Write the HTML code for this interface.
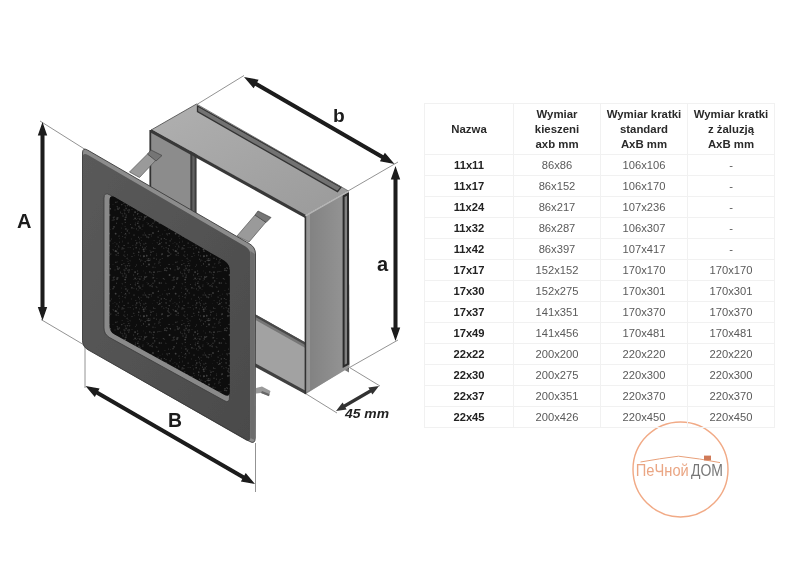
<!DOCTYPE html>
<html><head><meta charset="utf-8"><style>
html,body{margin:0;padding:0;background:#fff;}
body{width:800px;height:566px;position:relative;overflow:hidden;font-family:"Liberation Sans",sans-serif;}
table{position:absolute;left:424px;top:103px;width:350px;border-collapse:collapse;table-layout:fixed;font-size:11.2px;color:#5a5a5a;filter:blur(0.35px);}
td,th{border:1px solid #f1f1f1;text-align:center;padding:0;height:20px;line-height:20px;}
th{height:50px;line-height:15px;font-weight:bold;color:#2a2a2a;font-size:11.4px;}
td.n{font-weight:bold;color:#222;}
</style></head><body>

<svg width="800" height="566" viewBox="0 0 800 566" style="position:absolute;left:0;top:0">
<defs>
<pattern id="mesh" width="60" height="60" patternUnits="userSpaceOnUse"><rect width="60" height="60" fill="#0b0b0b"/><g filter="url(#soft2)"><circle cx="19.4" cy="9.1" r="0.83" fill="rgb(34,34,34)"/><circle cx="49.3" cy="5.6" r="0.80" fill="rgb(60,60,60)"/><circle cx="12.9" cy="5.2" r="0.75" fill="rgb(40,40,40)"/><circle cx="5.4" cy="25.5" r="0.89" fill="rgb(34,34,34)"/><circle cx="56.8" cy="37.8" r="0.80" fill="rgb(34,34,34)"/><circle cx="34.6" cy="23.8" r="0.94" fill="rgb(34,34,34)"/><circle cx="33.4" cy="8.0" r="0.75" fill="rgb(60,60,60)"/><circle cx="7.1" cy="18.5" r="0.89" fill="rgb(40,40,40)"/><circle cx="6.2" cy="34.3" r="0.67" fill="rgb(34,34,34)"/><circle cx="32.9" cy="3.8" r="0.62" fill="rgb(40,40,40)"/><circle cx="29.8" cy="31.9" r="0.87" fill="rgb(52,52,52)"/><circle cx="35.1" cy="27.2" r="0.70" fill="rgb(40,40,40)"/><circle cx="41.9" cy="14.6" r="0.80" fill="rgb(60,60,60)"/><circle cx="29.7" cy="20.6" r="0.76" fill="rgb(60,60,60)"/><circle cx="58.8" cy="7.1" r="0.75" fill="rgb(46,46,46)"/><circle cx="9.1" cy="29.3" r="0.61" fill="rgb(70,70,70)"/><circle cx="4.7" cy="33.5" r="0.88" fill="rgb(46,46,46)"/><circle cx="20.4" cy="21.0" r="0.77" fill="rgb(52,52,52)"/><circle cx="4.1" cy="5.6" r="0.69" fill="rgb(70,70,70)"/><circle cx="39.8" cy="3.6" r="0.85" fill="rgb(70,70,70)"/><circle cx="34.7" cy="40.9" r="0.76" fill="rgb(70,70,70)"/><circle cx="23.1" cy="40.1" r="0.61" fill="rgb(52,52,52)"/><circle cx="21.3" cy="36.7" r="0.77" fill="rgb(40,40,40)"/><circle cx="46.1" cy="7.8" r="0.69" fill="rgb(52,52,52)"/><circle cx="55.0" cy="29.8" r="0.66" fill="rgb(52,52,52)"/><circle cx="33.0" cy="53.0" r="0.89" fill="rgb(60,60,60)"/><circle cx="16.7" cy="24.9" r="0.73" fill="rgb(52,52,52)"/><circle cx="57.5" cy="9.1" r="0.66" fill="rgb(40,40,40)"/><circle cx="39.5" cy="0.7" r="0.89" fill="rgb(40,40,40)"/><circle cx="15.8" cy="0.2" r="0.75" fill="rgb(46,46,46)"/><circle cx="36.6" cy="19.1" r="0.64" fill="rgb(60,60,60)"/><circle cx="57.0" cy="39.3" r="0.86" fill="rgb(52,52,52)"/><circle cx="54.0" cy="46.8" r="0.91" fill="rgb(60,60,60)"/><circle cx="23.5" cy="23.9" r="0.64" fill="rgb(70,70,70)"/><circle cx="24.0" cy="11.4" r="0.94" fill="rgb(52,52,52)"/><circle cx="9.7" cy="20.4" r="0.62" fill="rgb(34,34,34)"/><circle cx="34.0" cy="32.2" r="0.93" fill="rgb(60,60,60)"/><circle cx="1.5" cy="52.5" r="0.81" fill="rgb(40,40,40)"/><circle cx="38.1" cy="57.3" r="0.81" fill="rgb(52,52,52)"/><circle cx="7.4" cy="50.9" r="0.95" fill="rgb(52,52,52)"/><circle cx="28.8" cy="18.7" r="0.65" fill="rgb(70,70,70)"/><circle cx="20.6" cy="15.9" r="0.89" fill="rgb(40,40,40)"/><circle cx="31.0" cy="12.3" r="0.93" fill="rgb(46,46,46)"/><circle cx="8.8" cy="32.6" r="0.61" fill="rgb(60,60,60)"/><circle cx="17.9" cy="38.6" r="0.63" fill="rgb(46,46,46)"/><circle cx="31.1" cy="54.5" r="0.72" fill="rgb(40,40,40)"/><circle cx="32.0" cy="46.7" r="0.72" fill="rgb(40,40,40)"/><circle cx="36.8" cy="47.3" r="0.87" fill="rgb(40,40,40)"/><circle cx="48.4" cy="49.1" r="0.86" fill="rgb(40,40,40)"/><circle cx="12.0" cy="29.6" r="0.86" fill="rgb(34,34,34)"/><circle cx="47.4" cy="28.3" r="0.67" fill="rgb(60,60,60)"/><circle cx="57.4" cy="26.8" r="0.93" fill="rgb(46,46,46)"/><circle cx="57.3" cy="21.9" r="0.68" fill="rgb(40,40,40)"/><circle cx="28.2" cy="20.3" r="0.77" fill="rgb(60,60,60)"/><circle cx="50.4" cy="28.8" r="0.83" fill="rgb(70,70,70)"/><circle cx="5.1" cy="39.6" r="0.92" fill="rgb(70,70,70)"/><circle cx="45.0" cy="28.7" r="0.66" fill="rgb(70,70,70)"/><circle cx="20.0" cy="48.0" r="0.94" fill="rgb(52,52,52)"/><circle cx="27.8" cy="44.6" r="0.63" fill="rgb(40,40,40)"/><circle cx="10.2" cy="7.6" r="0.65" fill="rgb(52,52,52)"/><circle cx="48.4" cy="8.8" r="0.89" fill="rgb(52,52,52)"/><circle cx="39.4" cy="21.0" r="0.79" fill="rgb(40,40,40)"/><circle cx="1.3" cy="48.0" r="0.85" fill="rgb(34,34,34)"/><circle cx="31.6" cy="56.0" r="0.75" fill="rgb(40,40,40)"/><circle cx="49.6" cy="12.7" r="0.69" fill="rgb(46,46,46)"/><circle cx="30.1" cy="45.8" r="0.71" fill="rgb(60,60,60)"/><circle cx="25.1" cy="7.9" r="0.92" fill="rgb(46,46,46)"/><circle cx="53.9" cy="39.7" r="0.89" fill="rgb(60,60,60)"/><circle cx="25.2" cy="55.1" r="0.78" fill="rgb(60,60,60)"/><circle cx="9.1" cy="30.6" r="0.91" fill="rgb(40,40,40)"/><circle cx="36.5" cy="46.6" r="0.65" fill="rgb(40,40,40)"/><circle cx="28.4" cy="43.5" r="0.79" fill="rgb(46,46,46)"/><circle cx="40.9" cy="31.8" r="0.77" fill="rgb(34,34,34)"/><circle cx="53.0" cy="3.4" r="0.67" fill="rgb(34,34,34)"/><circle cx="46.3" cy="30.5" r="0.80" fill="rgb(34,34,34)"/><circle cx="26.6" cy="36.8" r="0.78" fill="rgb(60,60,60)"/><circle cx="12.0" cy="16.6" r="0.78" fill="rgb(52,52,52)"/><circle cx="30.5" cy="14.9" r="0.78" fill="rgb(46,46,46)"/><circle cx="55.4" cy="53.6" r="0.67" fill="rgb(52,52,52)"/><circle cx="8.2" cy="7.3" r="0.75" fill="rgb(34,34,34)"/><circle cx="40.3" cy="25.7" r="0.67" fill="rgb(46,46,46)"/><circle cx="47.0" cy="53.8" r="0.65" fill="rgb(70,70,70)"/><circle cx="38.6" cy="22.0" r="0.69" fill="rgb(40,40,40)"/><circle cx="58.1" cy="13.2" r="0.93" fill="rgb(52,52,52)"/><circle cx="53.1" cy="9.8" r="0.83" fill="rgb(40,40,40)"/><circle cx="9.7" cy="25.9" r="0.78" fill="rgb(46,46,46)"/><circle cx="25.3" cy="21.4" r="0.63" fill="rgb(46,46,46)"/><circle cx="1.2" cy="33.2" r="0.75" fill="rgb(34,34,34)"/><circle cx="23.1" cy="31.0" r="0.70" fill="rgb(34,34,34)"/><circle cx="6.8" cy="55.1" r="0.68" fill="rgb(34,34,34)"/><circle cx="5.0" cy="16.3" r="0.92" fill="rgb(40,40,40)"/><circle cx="16.2" cy="7.8" r="0.75" fill="rgb(70,70,70)"/><circle cx="49.1" cy="15.5" r="0.65" fill="rgb(60,60,60)"/><circle cx="34.2" cy="42.0" r="0.63" fill="rgb(34,34,34)"/><circle cx="48.0" cy="11.0" r="0.91" fill="rgb(46,46,46)"/><circle cx="56.3" cy="38.1" r="0.88" fill="rgb(34,34,34)"/><circle cx="36.5" cy="13.3" r="0.69" fill="rgb(34,34,34)"/><circle cx="27.2" cy="20.3" r="0.79" fill="rgb(46,46,46)"/><circle cx="37.3" cy="2.6" r="0.85" fill="rgb(34,34,34)"/><circle cx="58.2" cy="15.7" r="0.66" fill="rgb(46,46,46)"/><circle cx="37.7" cy="31.9" r="0.67" fill="rgb(52,52,52)"/><circle cx="30.0" cy="10.7" r="0.72" fill="rgb(34,34,34)"/><circle cx="59.7" cy="2.2" r="0.61" fill="rgb(60,60,60)"/><circle cx="33.1" cy="11.4" r="0.77" fill="rgb(52,52,52)"/><circle cx="6.4" cy="49.1" r="0.75" fill="rgb(52,52,52)"/><circle cx="32.8" cy="53.3" r="0.94" fill="rgb(46,46,46)"/><circle cx="41.3" cy="58.9" r="0.72" fill="rgb(70,70,70)"/><circle cx="43.7" cy="8.4" r="0.95" fill="rgb(34,34,34)"/><circle cx="50.2" cy="0.9" r="0.82" fill="rgb(46,46,46)"/><circle cx="25.8" cy="3.3" r="0.83" fill="rgb(52,52,52)"/><circle cx="52.2" cy="40.2" r="0.70" fill="rgb(40,40,40)"/><circle cx="41.6" cy="2.7" r="0.66" fill="rgb(46,46,46)"/><circle cx="26.7" cy="15.8" r="0.94" fill="rgb(60,60,60)"/><circle cx="19.4" cy="2.1" r="0.91" fill="rgb(40,40,40)"/><circle cx="21.4" cy="0.1" r="0.73" fill="rgb(52,52,52)"/><circle cx="16.7" cy="39.4" r="0.69" fill="rgb(34,34,34)"/><circle cx="5.5" cy="49.0" r="0.65" fill="rgb(60,60,60)"/><circle cx="2.5" cy="1.3" r="0.71" fill="rgb(40,40,40)"/><circle cx="5.1" cy="57.5" r="0.90" fill="rgb(40,40,40)"/><circle cx="39.5" cy="43.0" r="0.91" fill="rgb(52,52,52)"/><circle cx="45.9" cy="43.2" r="0.77" fill="rgb(46,46,46)"/><circle cx="43.4" cy="38.6" r="0.62" fill="rgb(70,70,70)"/><circle cx="53.5" cy="37.6" r="0.86" fill="rgb(60,60,60)"/><circle cx="8.4" cy="31.4" r="0.78" fill="rgb(34,34,34)"/><circle cx="49.6" cy="35.0" r="0.91" fill="rgb(70,70,70)"/><circle cx="57.4" cy="38.6" r="0.63" fill="rgb(34,34,34)"/><circle cx="8.0" cy="21.6" r="0.64" fill="rgb(52,52,52)"/><circle cx="33.5" cy="37.7" r="0.82" fill="rgb(70,70,70)"/><circle cx="14.7" cy="15.8" r="0.76" fill="rgb(34,34,34)"/><circle cx="44.9" cy="30.2" r="0.79" fill="rgb(70,70,70)"/><circle cx="31.6" cy="44.7" r="0.77" fill="rgb(34,34,34)"/><circle cx="50.8" cy="14.1" r="0.86" fill="rgb(40,40,40)"/><circle cx="44.4" cy="58.5" r="0.77" fill="rgb(52,52,52)"/><circle cx="4.6" cy="54.6" r="0.70" fill="rgb(34,34,34)"/><circle cx="37.0" cy="38.6" r="0.63" fill="rgb(40,40,40)"/><circle cx="19.9" cy="39.1" r="0.84" fill="rgb(60,60,60)"/><circle cx="34.1" cy="0.7" r="0.62" fill="rgb(46,46,46)"/><circle cx="58.4" cy="6.0" r="0.68" fill="rgb(52,52,52)"/><circle cx="17.5" cy="31.0" r="0.76" fill="rgb(52,52,52)"/><circle cx="46.0" cy="59.6" r="0.79" fill="rgb(46,46,46)"/><circle cx="58.7" cy="56.2" r="0.61" fill="rgb(52,52,52)"/><circle cx="4.6" cy="30.4" r="0.95" fill="rgb(46,46,46)"/><circle cx="23.2" cy="55.0" r="0.93" fill="rgb(34,34,34)"/><circle cx="34.9" cy="8.5" r="0.78" fill="rgb(46,46,46)"/><circle cx="8.0" cy="49.2" r="0.78" fill="rgb(34,34,34)"/><circle cx="42.2" cy="13.9" r="0.91" fill="rgb(52,52,52)"/><circle cx="23.6" cy="9.5" r="0.93" fill="rgb(70,70,70)"/><circle cx="27.0" cy="18.1" r="0.65" fill="rgb(46,46,46)"/><circle cx="22.6" cy="7.3" r="0.72" fill="rgb(46,46,46)"/><circle cx="45.0" cy="50.3" r="0.64" fill="rgb(40,40,40)"/><circle cx="42.8" cy="54.1" r="0.70" fill="rgb(46,46,46)"/><circle cx="3.9" cy="23.4" r="0.90" fill="rgb(34,34,34)"/><circle cx="21.6" cy="25.7" r="0.70" fill="rgb(34,34,34)"/><circle cx="16.8" cy="3.1" r="0.83" fill="rgb(70,70,70)"/><circle cx="56.1" cy="15.0" r="0.69" fill="rgb(60,60,60)"/><circle cx="18.9" cy="46.4" r="0.87" fill="rgb(52,52,52)"/><circle cx="53.1" cy="48.7" r="0.82" fill="rgb(60,60,60)"/><circle cx="33.0" cy="43.2" r="0.62" fill="rgb(70,70,70)"/><circle cx="24.7" cy="36.9" r="0.65" fill="rgb(46,46,46)"/><circle cx="29.1" cy="54.7" r="0.79" fill="rgb(40,40,40)"/><circle cx="28.3" cy="20.6" r="0.70" fill="rgb(70,70,70)"/><circle cx="44.3" cy="39.2" r="0.74" fill="rgb(40,40,40)"/><circle cx="18.1" cy="33.4" r="0.74" fill="rgb(40,40,40)"/><circle cx="38.6" cy="4.5" r="0.78" fill="rgb(52,52,52)"/><circle cx="33.0" cy="27.2" r="0.72" fill="rgb(52,52,52)"/><circle cx="25.6" cy="32.9" r="0.69" fill="rgb(40,40,40)"/><circle cx="20.5" cy="5.5" r="0.68" fill="rgb(46,46,46)"/><circle cx="48.6" cy="12.1" r="0.61" fill="rgb(52,52,52)"/><circle cx="23.0" cy="44.8" r="0.67" fill="rgb(46,46,46)"/><circle cx="20.3" cy="3.7" r="0.70" fill="rgb(46,46,46)"/><circle cx="7.6" cy="30.2" r="0.82" fill="rgb(40,40,40)"/><circle cx="5.6" cy="53.8" r="0.73" fill="rgb(70,70,70)"/><circle cx="26.8" cy="57.2" r="0.90" fill="rgb(34,34,34)"/><circle cx="7.6" cy="25.5" r="0.87" fill="rgb(52,52,52)"/><circle cx="58.1" cy="29.4" r="0.63" fill="rgb(60,60,60)"/><circle cx="51.3" cy="58.3" r="0.69" fill="rgb(34,34,34)"/><circle cx="13.4" cy="9.1" r="0.94" fill="rgb(34,34,34)"/><circle cx="56.5" cy="43.3" r="0.83" fill="rgb(52,52,52)"/><circle cx="5.1" cy="46.6" r="0.60" fill="rgb(40,40,40)"/><circle cx="14.0" cy="55.2" r="0.83" fill="rgb(46,46,46)"/><circle cx="57.7" cy="37.6" r="0.78" fill="rgb(52,52,52)"/><circle cx="41.9" cy="6.7" r="0.62" fill="rgb(60,60,60)"/><circle cx="56.6" cy="11.5" r="0.69" fill="rgb(60,60,60)"/><circle cx="0.1" cy="32.2" r="0.95" fill="rgb(46,46,46)"/><circle cx="57.5" cy="38.7" r="0.91" fill="rgb(52,52,52)"/><circle cx="31.6" cy="32.8" r="0.61" fill="rgb(52,52,52)"/><circle cx="42.3" cy="18.4" r="0.61" fill="rgb(52,52,52)"/><circle cx="53.1" cy="38.8" r="0.63" fill="rgb(40,40,40)"/><circle cx="40.0" cy="55.5" r="0.68" fill="rgb(34,34,34)"/><circle cx="41.7" cy="43.1" r="0.73" fill="rgb(52,52,52)"/><circle cx="11.9" cy="47.8" r="0.86" fill="rgb(60,60,60)"/><circle cx="4.0" cy="29.7" r="0.67" fill="rgb(40,40,40)"/><circle cx="13.8" cy="13.3" r="0.87" fill="rgb(46,46,46)"/><circle cx="6.5" cy="37.4" r="0.81" fill="rgb(40,40,40)"/><circle cx="29.1" cy="54.6" r="0.62" fill="rgb(60,60,60)"/><circle cx="8.8" cy="23.6" r="0.67" fill="rgb(60,60,60)"/><circle cx="8.5" cy="3.1" r="0.62" fill="rgb(52,52,52)"/><circle cx="27.0" cy="42.7" r="0.71" fill="rgb(34,34,34)"/><circle cx="59.9" cy="55.9" r="0.72" fill="rgb(40,40,40)"/><circle cx="39.1" cy="31.5" r="0.76" fill="rgb(46,46,46)"/><circle cx="39.9" cy="22.7" r="0.73" fill="rgb(46,46,46)"/><circle cx="26.5" cy="6.5" r="0.63" fill="rgb(34,34,34)"/><circle cx="21.1" cy="57.3" r="0.64" fill="rgb(40,40,40)"/><circle cx="22.8" cy="46.1" r="0.71" fill="rgb(52,52,52)"/><circle cx="5.3" cy="42.3" r="0.67" fill="rgb(60,60,60)"/><circle cx="55.2" cy="11.6" r="0.73" fill="rgb(52,52,52)"/><circle cx="1.8" cy="24.6" r="0.88" fill="rgb(52,52,52)"/><circle cx="2.4" cy="2.1" r="0.62" fill="rgb(34,34,34)"/><circle cx="15.4" cy="44.8" r="0.91" fill="rgb(46,46,46)"/><circle cx="21.8" cy="20.1" r="0.93" fill="rgb(34,34,34)"/><circle cx="15.7" cy="43.0" r="0.71" fill="rgb(46,46,46)"/><circle cx="17.8" cy="43.3" r="0.81" fill="rgb(70,70,70)"/><circle cx="56.8" cy="3.9" r="0.89" fill="rgb(34,34,34)"/><circle cx="28.5" cy="57.4" r="0.93" fill="rgb(52,52,52)"/><circle cx="47.4" cy="54.8" r="0.89" fill="rgb(40,40,40)"/><circle cx="55.7" cy="11.0" r="0.88" fill="rgb(70,70,70)"/><circle cx="18.2" cy="41.5" r="0.65" fill="rgb(40,40,40)"/><circle cx="19.7" cy="19.2" r="0.73" fill="rgb(60,60,60)"/><circle cx="4.7" cy="11.8" r="0.86" fill="rgb(40,40,40)"/><circle cx="24.5" cy="39.0" r="0.77" fill="rgb(60,60,60)"/><circle cx="19.5" cy="58.8" r="0.91" fill="rgb(34,34,34)"/><circle cx="15.9" cy="5.0" r="0.63" fill="rgb(52,52,52)"/><circle cx="59.3" cy="58.3" r="0.66" fill="rgb(40,40,40)"/><circle cx="25.0" cy="37.2" r="0.84" fill="rgb(70,70,70)"/><circle cx="32.3" cy="46.4" r="0.87" fill="rgb(46,46,46)"/><circle cx="17.6" cy="34.0" r="0.73" fill="rgb(70,70,70)"/><circle cx="15.6" cy="26.4" r="0.67" fill="rgb(40,40,40)"/><circle cx="9.2" cy="53.1" r="0.80" fill="rgb(46,46,46)"/><circle cx="3.9" cy="15.1" r="0.69" fill="rgb(60,60,60)"/><circle cx="13.9" cy="48.5" r="0.83" fill="rgb(34,34,34)"/><circle cx="6.1" cy="28.5" r="0.89" fill="rgb(52,52,52)"/><circle cx="54.9" cy="2.4" r="0.70" fill="rgb(34,34,34)"/><circle cx="3.0" cy="36.0" r="0.89" fill="rgb(40,40,40)"/><circle cx="55.8" cy="22.3" r="0.90" fill="rgb(52,52,52)"/><circle cx="36.2" cy="46.5" r="0.83" fill="rgb(34,34,34)"/><circle cx="6.3" cy="35.8" r="0.82" fill="rgb(40,40,40)"/><circle cx="2.2" cy="20.4" r="0.62" fill="rgb(46,46,46)"/><circle cx="2.3" cy="43.9" r="0.92" fill="rgb(34,34,34)"/><circle cx="49.1" cy="24.5" r="0.73" fill="rgb(60,60,60)"/><circle cx="18.7" cy="12.2" r="0.88" fill="rgb(60,60,60)"/><circle cx="29.0" cy="24.5" r="0.88" fill="rgb(70,70,70)"/><circle cx="33.0" cy="38.4" r="0.63" fill="rgb(40,40,40)"/><circle cx="23.9" cy="16.3" r="0.95" fill="rgb(70,70,70)"/><circle cx="18.5" cy="57.2" r="0.71" fill="rgb(60,60,60)"/><circle cx="53.0" cy="24.8" r="0.61" fill="rgb(46,46,46)"/><circle cx="38.7" cy="23.4" r="0.74" fill="rgb(34,34,34)"/><circle cx="26.0" cy="9.4" r="0.64" fill="rgb(34,34,34)"/><circle cx="24.4" cy="53.0" r="0.76" fill="rgb(40,40,40)"/><circle cx="7.8" cy="3.1" r="0.65" fill="rgb(52,52,52)"/><circle cx="5.3" cy="37.3" r="0.73" fill="rgb(60,60,60)"/><circle cx="10.3" cy="20.9" r="0.66" fill="rgb(40,40,40)"/><circle cx="55.5" cy="6.5" r="0.77" fill="rgb(40,40,40)"/><circle cx="18.1" cy="50.2" r="0.62" fill="rgb(52,52,52)"/><circle cx="18.9" cy="36.5" r="0.82" fill="rgb(34,34,34)"/><circle cx="54.3" cy="37.2" r="0.89" fill="rgb(40,40,40)"/><circle cx="38.4" cy="51.4" r="0.82" fill="rgb(60,60,60)"/><circle cx="50.8" cy="49.8" r="0.66" fill="rgb(40,40,40)"/><circle cx="2.5" cy="56.3" r="0.65" fill="rgb(46,46,46)"/><circle cx="7.4" cy="14.8" r="0.85" fill="rgb(40,40,40)"/><circle cx="2.5" cy="33.7" r="0.87" fill="rgb(34,34,34)"/><circle cx="40.1" cy="19.5" r="0.74" fill="rgb(52,52,52)"/><circle cx="33.0" cy="37.6" r="0.71" fill="rgb(52,52,52)"/><circle cx="18.5" cy="15.0" r="0.74" fill="rgb(46,46,46)"/><circle cx="26.8" cy="26.3" r="0.61" fill="rgb(60,60,60)"/><circle cx="59.2" cy="27.9" r="0.76" fill="rgb(60,60,60)"/><circle cx="46.8" cy="27.5" r="0.66" fill="rgb(52,52,52)"/><circle cx="24.0" cy="4.0" r="0.73" fill="rgb(46,46,46)"/><circle cx="5.5" cy="26.5" r="0.78" fill="rgb(34,34,34)"/><circle cx="2.4" cy="7.8" r="0.92" fill="rgb(46,46,46)"/><circle cx="46.7" cy="30.7" r="0.62" fill="rgb(60,60,60)"/><circle cx="53.7" cy="39.2" r="0.87" fill="rgb(34,34,34)"/><circle cx="51.4" cy="59.8" r="0.86" fill="rgb(34,34,34)"/><circle cx="11.6" cy="58.9" r="0.77" fill="rgb(40,40,40)"/><circle cx="41.2" cy="43.3" r="0.68" fill="rgb(46,46,46)"/><circle cx="36.6" cy="15.1" r="0.71" fill="rgb(60,60,60)"/><circle cx="16.5" cy="48.9" r="0.65" fill="rgb(60,60,60)"/><circle cx="57.9" cy="28.8" r="0.81" fill="rgb(60,60,60)"/><circle cx="30.4" cy="19.1" r="0.61" fill="rgb(40,40,40)"/><circle cx="24.2" cy="38.2" r="0.70" fill="rgb(46,46,46)"/><circle cx="53.7" cy="10.1" r="0.87" fill="rgb(34,34,34)"/><circle cx="46.1" cy="2.9" r="0.90" fill="rgb(52,52,52)"/><circle cx="33.3" cy="34.8" r="0.91" fill="rgb(34,34,34)"/><circle cx="15.1" cy="32.1" r="0.90" fill="rgb(70,70,70)"/><circle cx="47.9" cy="15.9" r="0.95" fill="rgb(60,60,60)"/><circle cx="8.8" cy="19.8" r="0.63" fill="rgb(40,40,40)"/><circle cx="10.6" cy="44.6" r="0.62" fill="rgb(60,60,60)"/><circle cx="15.2" cy="38.4" r="0.94" fill="rgb(60,60,60)"/><circle cx="55.7" cy="53.7" r="0.86" fill="rgb(70,70,70)"/><circle cx="2.0" cy="9.0" r="0.82" fill="rgb(52,52,52)"/><circle cx="25.1" cy="21.8" r="0.62" fill="rgb(52,52,52)"/><circle cx="13.6" cy="39.2" r="0.61" fill="rgb(34,34,34)"/><circle cx="34.0" cy="18.2" r="0.78" fill="rgb(60,60,60)"/><circle cx="13.5" cy="35.0" r="0.81" fill="rgb(40,40,40)"/><circle cx="22.0" cy="49.7" r="0.66" fill="rgb(34,34,34)"/><circle cx="56.2" cy="14.6" r="0.65" fill="rgb(34,34,34)"/><circle cx="3.8" cy="8.7" r="0.83" fill="rgb(46,46,46)"/><circle cx="24.1" cy="15.9" r="0.60" fill="rgb(70,70,70)"/><circle cx="49.3" cy="53.6" r="0.81" fill="rgb(60,60,60)"/><circle cx="26.6" cy="56.2" r="0.86" fill="rgb(40,40,40)"/><circle cx="9.9" cy="0.0" r="0.62" fill="rgb(34,34,34)"/></g></pattern>
<linearGradient id="gtop" x1="0" y1="0" x2="1" y2="1"><stop offset="0" stop-color="#b0b0b0"/><stop offset="1" stop-color="#9a9a9a"/></linearGradient>
<linearGradient id="gright" x1="0" y1="0" x2="1" y2="0"><stop offset="0" stop-color="#808080"/><stop offset="1" stop-color="#969696"/></linearGradient>
<linearGradient id="gplate" x1="0" y1="0" x2="1" y2="1"><stop offset="0" stop-color="#5a5a5a"/><stop offset="1" stop-color="#4a4a4a"/></linearGradient>
<filter id="soft2"><feGaussianBlur stdDeviation="0.55"/></filter><filter id="soft"><feGaussianBlur stdDeviation="0.45"/></filter>
</defs>
<g filter="url(#soft)">
<!-- extension lines -->
<g stroke="#777" stroke-width="0.8" fill="none">
<line x1="40" y1="121" x2="86" y2="150"/>
<line x1="41" y1="319.5" x2="85" y2="345.5"/>
<line x1="85" y1="346" x2="85" y2="388"/>
<line x1="255.5" y1="443" x2="255.5" y2="492"/>
<line x1="196" y1="105" x2="244" y2="75.5"/>
<line x1="348" y1="191" x2="398" y2="162"/>
<line x1="349.5" y1="367.5" x2="398" y2="340"/>
<line x1="349.5" y1="367.5" x2="380" y2="386"/>
<line x1="305.5" y1="393.5" x2="337" y2="413"/>
</g>

<!-- box: bottom inner surface -->
<polygon points="196,281 349,367 306,394 151,309" fill="#a2a2a2"/>
<polygon points="196,281 349,367 349,372.5 196,286.5" fill="#767676"/><polygon points="196,281 349,367 349,369.6 196,283.6" fill="#484848"/>
<polygon points="151,306.3 306,391 306,394.6 151,310" fill="#404040"/>
<!-- left inner wall -->
<polygon points="150,130 196,155 196,283 150,310" fill="#8c8c8c"/>
<polygon points="190.3,150 196.6,153.5 196.6,283 190.3,286" fill="#3c3c3c"/>
<polygon points="192.3,152 194.6,153.3 194.6,283 192.3,284.2" fill="#636363"/>
<line x1="150.3" y1="130" x2="150.3" y2="310" stroke="#333" stroke-width="1.8"/>
<!-- right end face -->
<polygon points="305,215.5 348.5,191 349.5,367.5 305.5,393.8" fill="url(#gright)"/>
<polygon points="306,215.5 310,213.2 310,390 306,392.2" fill="#a0a0a0" opacity="0.7"/>
<polygon points="342.6,195.5 349,192 349.3,364.5 342.6,368" fill="#2a2a2a"/>
<polygon points="344.6,197 347,195.8 347,363.5 344.6,364.8" fill="#808080"/>
<line x1="305.4" y1="216" x2="305.4" y2="394" stroke="#333" stroke-width="1.6"/>
<!-- top face -->
<polygon points="152,129.5 196.5,104 348.5,191 305,215.5" fill="url(#gtop)"/>
<polygon points="197.5,106 341,187.2 337.5,191.6 197.5,111.6" fill="#727272" stroke="#333" stroke-width="1.3"/>
<polygon points="151,129 305.5,214.8 305.5,218.2 151,132.8" fill="#383838"/>
<line x1="305.5" y1="216" x2="348.5" y2="191.5" stroke="#b8b8b8" stroke-width="1.2"/>
<line x1="152" y1="129.5" x2="196.5" y2="104" stroke="#555" stroke-width="0.9"/>
<line x1="196.5" y1="104" x2="348.5" y2="191" stroke="#666" stroke-width="0.8"/>

<!-- clips -->
<polygon points="129.5,172 139.5,177.5 156,160 147.5,154" fill="#9a9a9a" stroke="#555" stroke-width="0.7"/>
<polygon points="147.5,154 151,150 162,155.5 156,161" fill="#747474" stroke="#444" stroke-width="0.7"/>
<polygon points="237,236 249,242 266,222 255,215" fill="#9a9a9a" stroke="#555" stroke-width="0.7"/>
<polygon points="255,215 258,211 271,217.5 266,222.5" fill="#747474" stroke="#444" stroke-width="0.7"/>
<polygon points="256,388 262,386.5 270.5,391 269,396 261,393 256,393.5" fill="#9a9a9a"/><polygon points="262,391 269.5,394 269,396.3 261,393" fill="#666"/>

<!-- plate -->
<path d="M82.5,153 Q82.5,147 88,150.3 L249,243.5 Q255.5,247 255.5,254 L255.2,438 Q255.2,444.6 249.5,441.4 L88,349.8 Q82.5,346.6 82.5,340.5 Z" fill="#8c8c8c"/>
<path d="M82.5,158 Q82.5,152 88,155 L245.5,246.4 Q250.5,249.4 250.5,255 L250.3,437 Q250.3,442.8 245.5,439.9 L88,349.8 Q82.5,346.6 82.5,340.5 Z" fill="url(#gplate)"/>
<path d="M82.5,153 Q82.5,147 88,150.3 L249,243.5 Q255.5,247 255.5,254 L255.2,438 Q255.2,444.6 249.5,441.4 L88,349.8 Q82.5,346.6 82.5,340.5 Z" fill="none" stroke="#3a3a3a" stroke-width="0.9"/>
<polygon points="250.3,251 254.8,254 254.8,440 250.3,438" fill="#6c6c6c"/>
<!-- opening bevel -->
<path d="M104,198 Q104,191.5 110,195 L224,261 Q229.5,264.5 229.5,271 L229.5,397 Q229.5,404 224,400.5 L109.5,337.5 Q104,334.2 104,328 Z" fill="#8a8a8a" stroke="#3a3a3a" stroke-width="0.8"/>
<path d="M109.5,200.5 Q109.5,194 115,197.3 L224,260.6 Q229.8,264.2 229.8,270.5 L229.8,391.5 Q229.8,398 224,394.7 L114.5,334.5 Q109.5,331.7 109.5,326 Z" fill="url(#mesh)"/>
</g>

<!-- arrows -->
<g filter="url(#soft)">
<polygon fill="#1a1a1a" points="42.5,122.0 37.8,135.5 40.5,135.5 40.5,307.0 37.8,307.0 42.5,320.5 47.2,307.0 44.5,307.0 44.5,135.5 47.2,135.5"/>
<polygon fill="#1a1a1a" points="244.0,77.0 253.6,88.3 255.1,85.8 381.3,158.8 379.9,161.3 394.5,164.0 384.9,152.7 383.4,155.2 257.2,82.2 258.6,79.7"/>
<polygon fill="#1a1a1a" points="395.5,166.0 390.8,179.5 393.5,179.5 393.5,327.5 390.8,327.5 395.5,341.0 400.2,327.5 397.5,327.5 397.5,179.5 400.2,179.5"/>
<polygon fill="#1a1a1a" points="85.5,386.0 94.8,396.9 96.2,394.5 242.3,479.0 240.9,481.4 255.0,484.0 245.7,473.1 244.3,475.5 98.2,391.0 99.6,388.6"/>
<polygon fill="#333" points="336.0,411.0 346.7,409.4 345.4,407.4 371.2,392.4 372.4,394.5 379.0,386.0 368.3,387.6 369.6,389.6 343.8,404.6 342.6,402.5"/>
<g font-family="Liberation Sans, sans-serif" font-weight="bold" fill="#1a1a1a">
<text x="17" y="227.7" font-size="20">A</text>
<text x="168" y="427" font-size="19.4">B</text>
<text x="333" y="122" font-size="19.2">b</text>
<text x="377" y="271" font-size="20">a</text>
<text x="345" y="417.5" font-size="13" font-style="italic" fill="#222" textLength="44" lengthAdjust="spacingAndGlyphs">45 mm</text>
</g>
</g>

<!-- logo -->
<g filter="url(#soft)">
<circle cx="680.5" cy="469.4" r="47.5" fill="none" stroke="#f1aa86" stroke-width="1.45"/>
<path d="M640.5,462 Q660,458.5 678.5,456.2 Q700,458.6 720,462.6" fill="none" stroke="#e8a07a" stroke-width="1"/>
<rect x="704" y="455.6" width="7" height="4.8" fill="#d07a58"/>
<text x="635.8" y="475.6" font-family="Liberation Sans, sans-serif" font-size="16.8" fill="#eaa684" textLength="53" lengthAdjust="spacingAndGlyphs">ПеЧной</text>
<text x="691" y="475.6" font-family="Liberation Sans, sans-serif" font-size="16.8" fill="#777" textLength="32" lengthAdjust="spacingAndGlyphs">ДОМ</text>
</g>
</svg>

<table><colgroup><col style="width:89px"><col style="width:87px"><col style="width:87px"><col style="width:87px"></colgroup>
<tr><th>Nazwa</th><th>Wymiar<br>kieszeni<br>axb mm</th><th>Wymiar kratki<br>standard<br>AxB mm</th><th>Wymiar kratki<br>z żaluzją<br>AxB mm</th></tr>
<tr><td class=n>11x11</td><td>86x86</td><td>106x106</td><td>-</td></tr><tr><td class=n>11x17</td><td>86x152</td><td>106x170</td><td>-</td></tr><tr><td class=n>11x24</td><td>86x217</td><td>107x236</td><td>-</td></tr><tr><td class=n>11x32</td><td>86x287</td><td>106x307</td><td>-</td></tr><tr><td class=n>11x42</td><td>86x397</td><td>107x417</td><td>-</td></tr><tr><td class=n>17x17</td><td>152x152</td><td>170x170</td><td>170x170</td></tr><tr><td class=n>17x30</td><td>152x275</td><td>170x301</td><td>170x301</td></tr><tr><td class=n>17x37</td><td>141x351</td><td>170x370</td><td>170x370</td></tr><tr><td class=n>17x49</td><td>141x456</td><td>170x481</td><td>170x481</td></tr><tr><td class=n>22x22</td><td>200x200</td><td>220x220</td><td>220x220</td></tr><tr><td class=n>22x30</td><td>200x275</td><td>220x300</td><td>220x300</td></tr><tr><td class=n>22x37</td><td>200x351</td><td>220x370</td><td>220x370</td></tr><tr><td class=n>22x45</td><td>200x426</td><td>220x450</td><td>220x450</td></tr>
</table>
</body></html>
